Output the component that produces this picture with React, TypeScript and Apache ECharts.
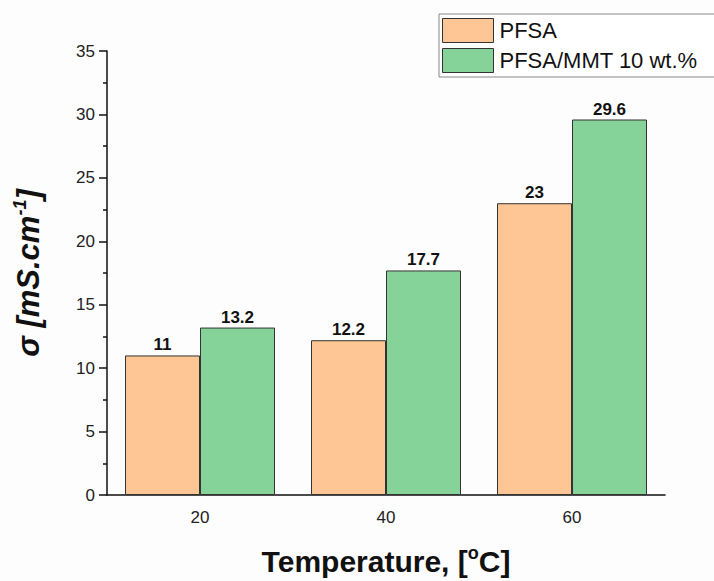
import React, { useEffect, useRef } from "react";
import * as echarts from "echarts";

const categories = ["20", "40", "60"];
const pfsa = [11, 12.2, 23];
const pfsaMmt = [13.2, 17.7, 29.6];
const seriesNames = ["PFSA", "PFSA/MMT 10 wt.%"];

export default function App() {
  const ref = useRef<HTMLDivElement>(null);
  useEffect(() => {
    const chart = echarts.init(ref.current!, undefined, { renderer: "svg" });
    const font = "'Liberation Sans', Arial, sans-serif";
    const labelStyle = {
      show: true,
      position: "top",
      distance: 2,
      fontFamily: font,
      fontWeight: "bold",
      fontSize: 17,
      color: "#111",
    };
    chart.setOption({
      animation: false,
      backgroundColor: "#fdfdfd",
      textStyle: { fontFamily: font },
      grid: { left: 107, right: 49, top: 51, bottom: 80 },
      legend: {
        data: seriesNames,
        orient: "vertical",
        left: 439,
        top: 14,
        icon: "rect",
        itemWidth: 51,
        itemHeight: 24,
        itemGap: 5,
        padding: [4, 20, 4, 3],
        borderColor: "#888",
        borderWidth: 1,
        backgroundColor: "#fff",
        itemStyle: { borderColor: "#333", borderWidth: 1 },
        textStyle: { fontSize: 22, color: "#111", fontFamily: font, padding: [0, 0, 0, 1] },
      },
      xAxis: [
        {
          type: "category",
          data: categories,
          position: "bottom",
          name: "{a|Temperature, [}{s|o}{a|C]}",
          nameLocation: "middle",
          nameGap: 49,
          nameTextStyle: {
            rich: {
              a: { fontSize: 30, fontWeight: "bold", color: "#111", fontFamily: font, lineHeight: 34 },
              s: { fontSize: 18, fontWeight: "bold", color: "#111", fontFamily: font, verticalAlign: "top", lineHeight: 34, padding: [0, 0, 14, 0] },
            },
          },
          axisLine: { lineStyle: { color: "#111", width: 1.5 } },
          axisTick: { alignWithLabel: true, length: 8, lineStyle: { color: "#111", width: 1.5 } },
          axisLabel: { fontSize: 17, color: "#222", margin: 14, fontFamily: font },
        },
        {
          type: "category",
          data: categories,
          position: "bottom",
          axisLine: { show: false },
          axisTick: { length: 4, lineStyle: { color: "#111", width: 1.5 } },
          axisLabel: { show: false },
        },
      ],
      yAxis: {
        type: "value",
        min: 0,
        max: 35,
        interval: 5,
        name: "{a|σ [mS.cm}{s|-1}{a|]}",
        nameLocation: "middle",
        nameGap: 62,
        nameRotate: 90,
        nameTextStyle: {
          rich: {
            a: { fontSize: 31, fontWeight: "bold", fontStyle: "italic", color: "#111", fontFamily: font, lineHeight: 34 },
            s: { fontSize: 18, fontWeight: "bold", fontStyle: "italic", color: "#111", fontFamily: font, verticalAlign: "top", lineHeight: 34, padding: [0, 0, 14, 0] },
          },
        },
        axisLine: { show: true, lineStyle: { color: "#111", width: 1.5 } },
        axisTick: { show: true, length: 8, lineStyle: { color: "#111", width: 1.5 } },
        minorTick: { show: true, splitNumber: 2, length: 4, lineStyle: { color: "#111", width: 1.5 } },
        axisLabel: { fontSize: 17, color: "#222", margin: 12, fontFamily: font },
        splitLine: { show: false },
      },
      series: [
        {
          name: seriesNames[0],
          type: "bar",
          data: pfsa,
          barWidth: 75,
          barGap: "0%",
          itemStyle: { color: "#FEC595", borderColor: "#333", borderWidth: 1 },
          label: labelStyle,
        },
        {
          name: seriesNames[1],
          type: "bar",
          data: pfsaMmt,
          barWidth: 75,
          barGap: "0%",
          itemStyle: { color: "#86D39A", borderColor: "#333", borderWidth: 1 },
          label: labelStyle,
        },
      ],
    });
    return () => chart.dispose();
  }, []);
  return (
    <div
      ref={ref}
      style={{ position: "absolute", left: 0, top: 0, width: 714, height: 581 }}
    />
  );
}
